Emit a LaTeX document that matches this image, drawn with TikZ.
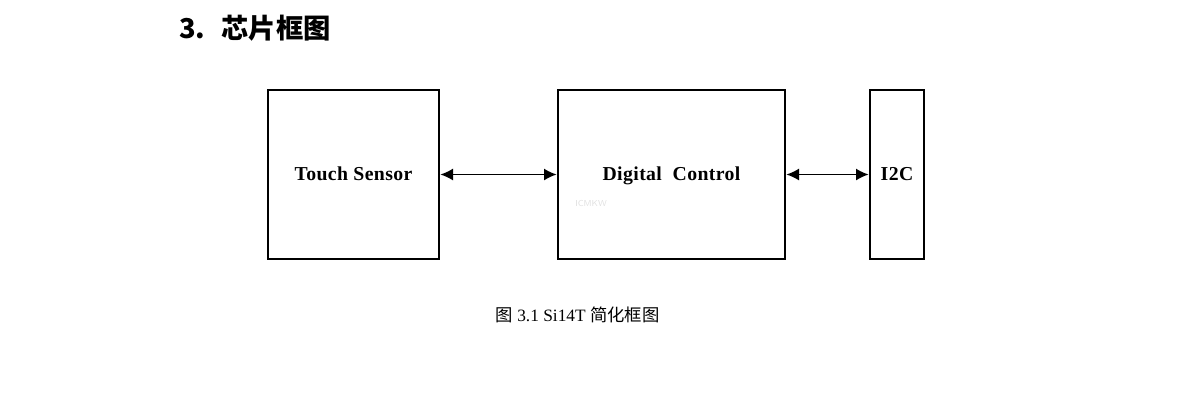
\documentclass[tikz,border=0pt]{standalone}
\usepackage{fontspec}
\setmainfont{Liberation Serif}
\newfontfamily\cjk{Noto Sans CJK SC}
\usetikzlibrary{arrows.meta, positioning}

\begin{document}
\begin{tikzpicture}[x=0.75pt, y=-0.75pt,
        every node/.style={inner sep=0pt},
        block/.style={draw, line width=2pt, minimum height=126.75pt, text height=2.1ex, text depth=0pt,
            font=\fontsize{14.8}{16}\selectfont\bfseries\addfontfeatures{LetterSpace=2}},
        link/.style={line width=1.1pt, {Latex[length=9.5pt,width=9pt]}-{Latex[length=9.5pt,width=9pt]}}]
    \useasboundingbox (0,0) rectangle (1190,405);
    % heading
    \node[anchor=west] (title) at (179,28) {\cjk\fontsize{20.5}{22}\selectfont\bfseries 3.\hspace{12pt}芯片框图};
    % blocks
    \node[block, minimum width=128.25pt] (sensor) at (353.5,174.5) {Touch Sensor};
    \node[block, minimum width=170.25pt] (digital) at (671.5,174.5) {Digital\ \ Control};
    \node[block, minimum width=40.5pt] (iic) at (897,174.5) {I2C};
    \node[anchor=west, text=black!12, font=\sffamily\fontsize{6.5}{7}\selectfont] (mark) at (575,203) {ICMKW};
    % links
    \draw[link] (sensor) -- (digital);
    \draw[link] (digital) -- (iic);
    % caption
    \node (caption) at (577.5,315) {\fontsize{13}{15}\selectfont{\cjk 图} 3.1 Si14T {\cjk 简化框图}};
\end{tikzpicture}
\end{document}
